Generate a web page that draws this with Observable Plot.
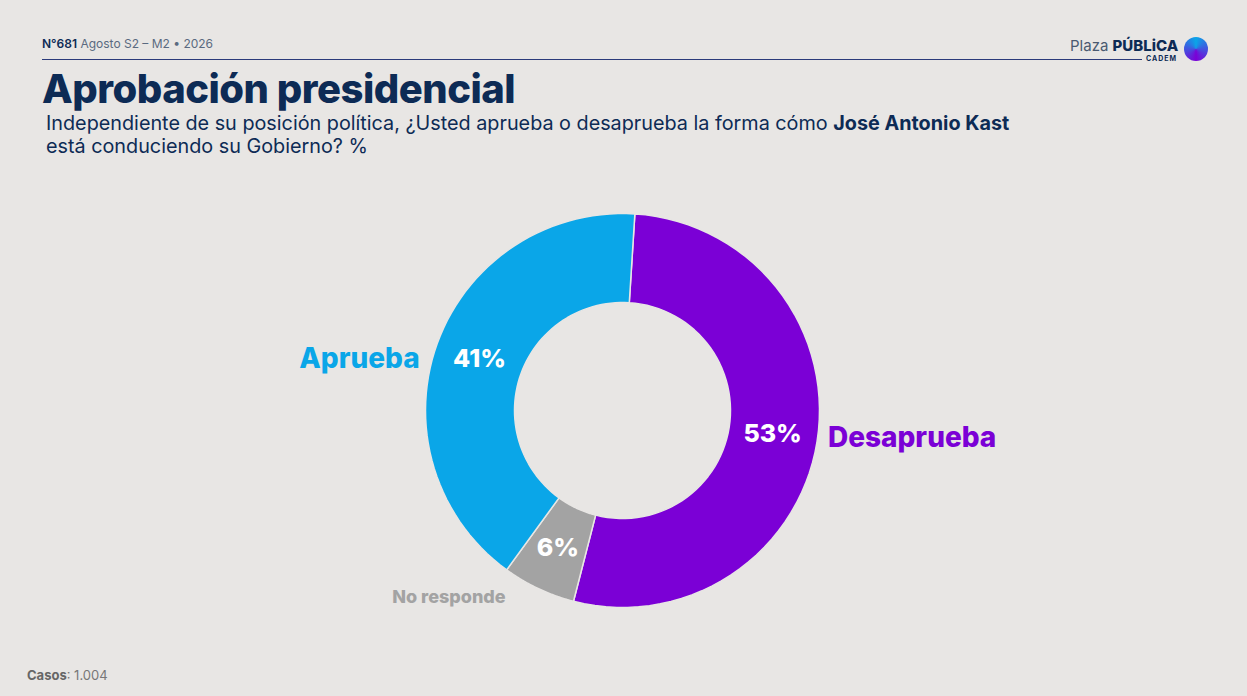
<!DOCTYPE html>
<html><head><meta charset="utf-8">
<script src="https://cdn.jsdelivr.net/npm/d3@7"></script>
<script src="https://cdn.jsdelivr.net/npm/@observablehq/plot@0.6"></script>
<style>
body{margin:0;background:#e8e6e4;font-family:Inter,"Open Sans",sans-serif;width:1247px;height:696px;overflow:hidden;position:relative;color:#0d2b55}
#top{position:absolute;left:42px;top:36px;font-size:12px;color:#5a6a80}
#top b{color:#0d2b55;font-weight:600}
#rule{position:absolute;left:42px;top:59px;width:1100px;border-top:1.3px solid #2b3a7a}
#logo{position:absolute;left:1070px;top:36px;font-size:15px;color:#4a5a70}
#logo b{color:#0d2b55;font-weight:800}
#cadem{position:absolute;left:1146px;top:54px;font-size:7px;letter-spacing:1px;color:#0d2b55;font-weight:700}
#dot{position:absolute;left:1184px;top:37px;width:24px;height:24px;border-radius:50%;background:conic-gradient(#0aa6e8,#7b00d6,#0aa6e8)}
h1{position:absolute;left:42px;top:64px;margin:0;font-size:40px;font-weight:800;letter-spacing:-0.5px}
#sub{position:absolute;left:46px;top:112px;font-size:19.8px;line-height:23px;color:#0d2b55}
#chart{position:absolute;left:0;top:180px}
#casos{position:absolute;left:27px;top:667px;font-size:13px;color:#777}
#casos b{color:#666}
</style></head><body>
<div id="top"><b>N°681</b> Agosto S2 – M2 • 2026</div>
<div id="rule"></div>
<div id="logo">Plaza <b>PÚBLiCA</b></div><div id="cadem">CADEM</div><div id="dot"></div>
<h1>Aprobación presidencial</h1>
<div id="sub">Independiente de su posición política, ¿Usted aprueba o desaprueba la forma cómo <b>José Antonio Kast</b><br>está conduciendo su Gobierno? %</div>
<div id="chart"></div>
<div id="casos"><b>Casos</b>: 1.004</div>
<script>
const categories = ["Desaprueba", "No responde", "Aprueba"];
const values = [53, 6, 41];
const colors = ["#7b00d6", "#a3a3a3", "#0aa6e8"];

const start = 3.6 * Math.PI / 180;
const rOut = 197, rIn = 108;
const pie = d3.pie().sort(null).startAngle(start).endAngle(start + 2 * Math.PI)(values);
const pt = (a, r) => ({x: r * Math.sin(a), y: r * Math.cos(a)});

const ring = [];
pie.forEach((p, i) => {
  const steps = d3.range(0, 61).map(k => p.startAngle + (p.endAngle - p.startAngle) * k / 60);
  steps.forEach(a => ring.push({cat: categories[i], ...pt(a, rOut)}));
  steps.slice().reverse().forEach(a => ring.push({cat: categories[i], ...pt(a, rIn)}));
});
const mids = pie.map((p, i) => ({cat: categories[i], v: values[i], a: (p.startAngle + p.endAngle) / 2}));
const color = {domain: categories, range: colors};

const labelOpts = {
  "Desaprueba": {r: 208, anchor: "start", dx: 0, dy: -5},
  "No responde": {r: 215, anchor: "middle", dx: -82, dy: -8},
  "Aprueba": {r: 205, anchor: "end", dx: -10, dy: 18}
};

const chart = Plot.plot({
  width: 1247, height: 460, margin: 0,
  x: {domain: [-622, 625], axis: null},
  y: {domain: [-230, 230], axis: null},
  color,
  marks: [
    Plot.line(ring, {x: "x", y: "y", z: "cat", fill: "cat", stroke: "#e8e6e4", strokeWidth: 1.5, curve: "linear-closed"}),
    Plot.text(mids, {x: d => pt(d.a, 152).x, y: d => pt(d.a, 152).y, text: d => d.v + "%", fill: "white",
      fontSize: 25, fontWeight: 800, fontFamily: "Inter"}),
    ...categories.map(c => Plot.text(mids.filter(d => d.cat === c), {
      x: d => pt(d.a, labelOpts[c].r).x, y: d => pt(d.a, labelOpts[c].r).y,
      text: "cat", fill: "cat", textAnchor: labelOpts[c].anchor, dx: labelOpts[c].dx, dy: labelOpts[c].dy,
      fontSize: c === "No responde" ? 18 : 28, fontWeight: 800, fontFamily: "Inter"
    }))
  ]
});
chart.style.background = "transparent";
document.getElementById("chart").append(chart);
</script>
</body></html>
